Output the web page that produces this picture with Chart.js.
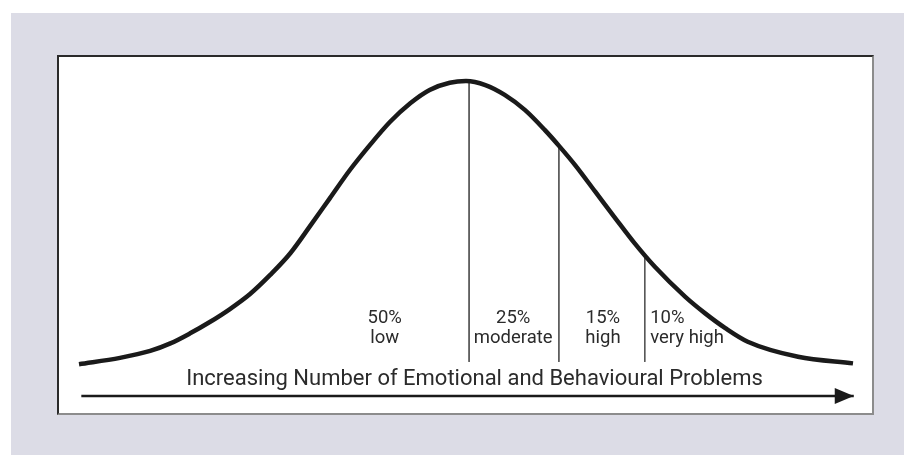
<!DOCTYPE html>
<html>
<head>
<meta charset="utf-8">
<title>Distribution of Emotional and Behavioural Problems</title>
<script src="https://cdn.jsdelivr.net/npm/chart.js@4.4.1/dist/chart.umd.min.js"></script>
<style>
    html, body {
        margin: 0;
        padding: 0;
        width: 904px;
        height: 455px;
        background: #ffffff;
        overflow: hidden;
    }
    #panel {
        position: absolute;
        left: 11px;
        top: 13px;
        width: 893px;
        height: 442px;
        background: #dcdce6;
    }
    #frame {
        position: absolute;
        left: 57px;
        top: 55px;
        width: 813px;
        height: 356px;
        background: #ffffff;
        border-top: 2px solid #2a2a2a;
        border-left: 2px solid #2a2a2a;
        border-right: 2px solid #8c8c8c;
        border-bottom: 2px solid #8c8c8c;
    }
    #chartWrap {
        position: absolute;
        left: 0;
        top: 0;
        width: 904px;
        height: 455px;
    }
</style>
</head>
<body>
<div id="panel"></div>
<div id="frame"></div>
<div id="chartWrap"><canvas id="bellChart"></canvas></div>

<script>
// Curve: problem score (0-100) vs relative frequency (peak = 100)
const curveScores = [0, 5.3, 9.2, 11.8, 14.3, 16.9, 19.5, 22.1, 24.7, 27.3, 29.8, 32.4, 35, 37.6, 40.2, 42.8, 45.3, 47.9, 50,
    52.5, 55, 57.6, 60.2, 62.1, 64.1, 66.7, 69.3, 71.8, 74.4, 78.3, 80.9, 83.5, 86.4, 92.9, 100];
const curveHeights = [2, 4.2, 6.6, 9.2, 12.6, 16.6, 21.1, 26.3, 32.9, 40.4, 49.6, 59.4, 69.2, 77.9, 85.9, 92.3, 96.9, 99.4, 100,
    98.6, 95.2, 90, 83, 77.3, 70.9, 61.7, 52.5, 43.8, 35.7, 25.4, 19.6, 14.5, 9.8, 4.6, 2.3];

// Band cut-offs (score) and the curve height where each divider meets the curve
const cutoffScores = [50.4, 62, 73.1];
const cutoffHeights = [100, 77.4, 39.8];
const dividerBottom = 2.8;

// Band labels
const bandPercents = ['50%', '25%', '15%', '10%'];
const bandNames = ['low', 'moderate', 'high', 'very high'];
const bandLabelScores = [39.5, 56.1, 67.7, 73.8];
const bandLabelAlign = ['center', 'center', 'center', 'left'];

// Axis arrow and caption
const arrowScores = [0.3, 100.1];
const arrowLevel = -9;
const axisCaption = 'Increasing Number of Emotional and Behavioural Problems';
const captionScore = 51.1;
const captionLevel = -5.2;

const curvePoints = curveScores.map((x, i) => ({ x: x, y: curveHeights[i] }));

const dividerDatasets = cutoffScores.map((x, i) => ({
    label: 'divider ' + (i + 1),
    data: [{ x: x, y: cutoffHeights[i] }, { x: x, y: dividerBottom }],
    borderColor: '#555555',
    borderWidth: 1,
    pointRadius: 0,
    tension: 0,
    clip: false
}));

const arrowDataset = {
    label: 'arrow',
    data: arrowScores.map(x => ({ x: x, y: arrowLevel })),
    borderColor: '#1a1a1a',
    borderWidth: 2.5,
    pointRadius: 0,
    tension: 0,
    clip: false
};

// Draws arrow head, band labels and the caption from scale coordinates
const annotationPlugin = {
    id: 'bellAnnotations',
    afterDatasetsDraw(chart) {
        const ctx = chart.ctx;
        const xs = chart.scales.x;
        const ys = chart.scales.y;

        // arrow head at the end of the axis line
        const tipX = xs.getPixelForValue(arrowScores[1]);
        const tipY = ys.getPixelForValue(arrowLevel);
        ctx.save();
        ctx.fillStyle = '#1a1a1a';
        ctx.beginPath();
        ctx.moveTo(tipX, tipY);
        ctx.lineTo(tipX - 19, tipY - 8);
        ctx.lineTo(tipX - 19, tipY + 8);
        ctx.closePath();
        ctx.fill();

        // band labels
        ctx.fillStyle = '#2b2b2b';
        ctx.font = '18.5px Roboto';
        ctx.textBaseline = 'alphabetic';
        bandPercents.forEach((pct, i) => {
            const px = xs.getPixelForValue(bandLabelScores[i]);
            ctx.textAlign = bandLabelAlign[i];
            ctx.fillText(pct, px, ys.getPixelForValue(16.3));
            ctx.fillText(bandNames[i], px, ys.getPixelForValue(9.3));
        });

        // caption
        ctx.font = '22px Roboto';
        ctx.textAlign = 'center';
        ctx.fillText(axisCaption, xs.getPixelForValue(captionScore), ys.getPixelForValue(captionLevel));
        ctx.restore();
    }
};

new Chart(document.getElementById('bellChart'), {
    type: 'line',
    data: {
        datasets: [{
            label: 'Distribution',
            data: curvePoints,
            borderColor: '#1a1a1a',
            borderWidth: 4.5,
            pointRadius: 0,
            cubicInterpolationMode: 'monotone',
            fill: false,
            clip: false
        }, ...dividerDatasets, arrowDataset]
    },
    options: {
        responsive: true,
        maintainAspectRatio: false,
        animation: false,
        layout: {
            padding: { left: 79, right: 51, top: 81, bottom: 50.3 }
        },
        plugins: {
            legend: { display: false },
            tooltip: { enabled: false },
            title: { display: false }
        },
        scales: {
            x: {
                type: 'linear',
                min: 0,
                max: 100,
                display: false
            },
            y: {
                type: 'linear',
                min: -12,
                max: 100,
                display: false
            }
        }
    },
    plugins: [annotationPlugin]
});
</script>
</body>
</html>
